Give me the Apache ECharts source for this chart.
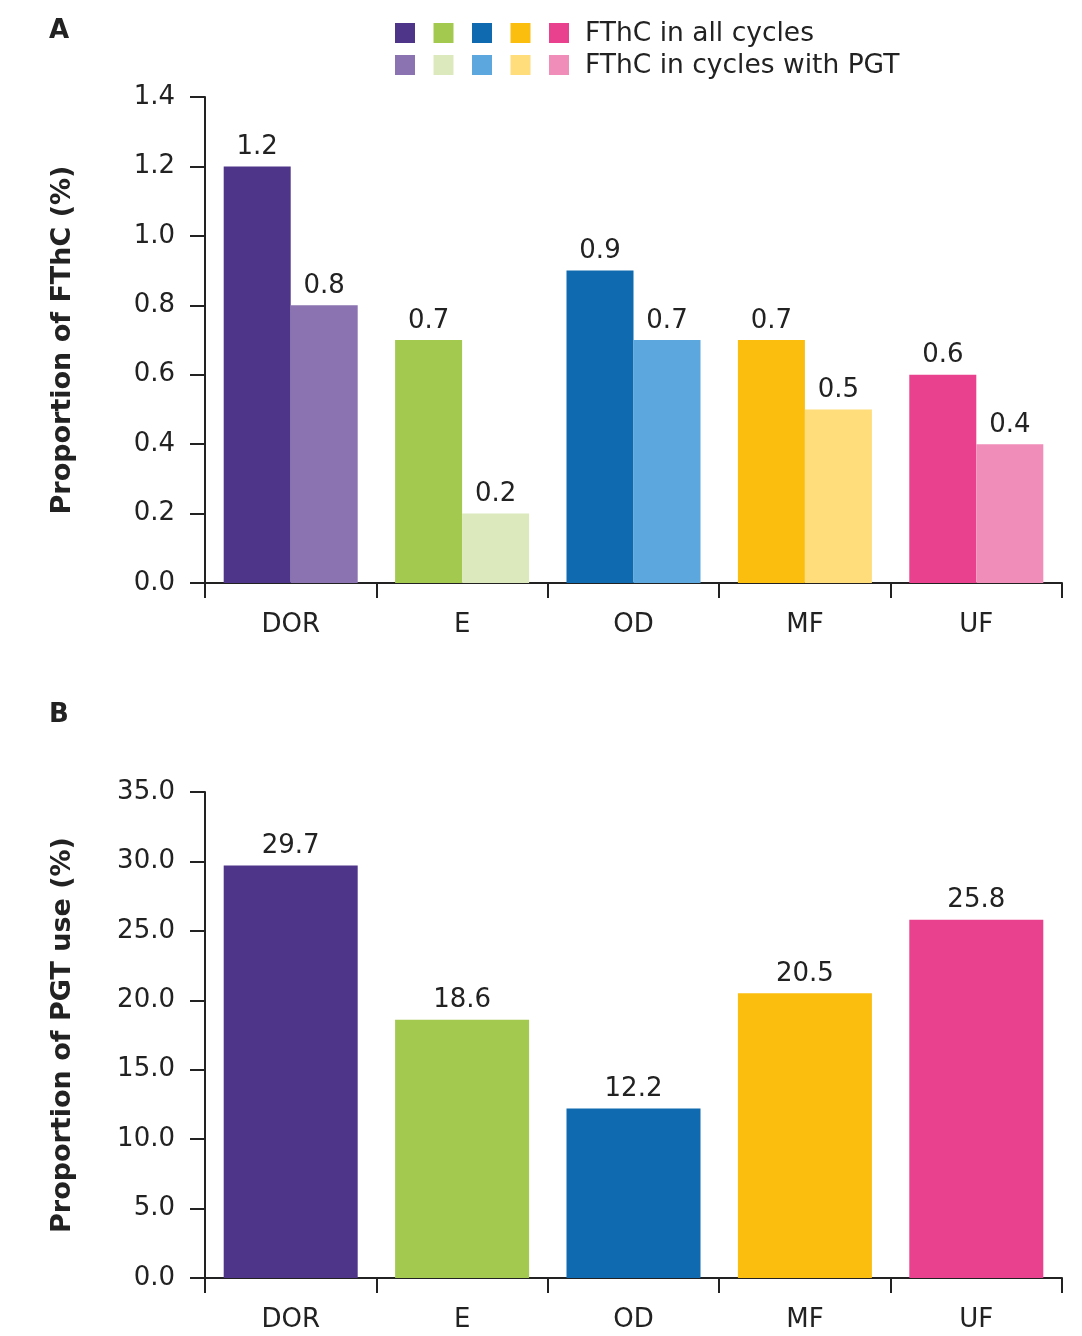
<!DOCTYPE html>
<html>
<head>
<meta charset="utf-8">
<script src="https://cdn.jsdelivr.net/npm/echarts@6/dist/echarts.min.js"></script>
<style>
  html, body { margin: 0; padding: 0; background: #fff; }
  #chart { width: 1082px; height: 1336px; }
</style>
</head>
<body>
<div id="chart"></div>
<script>
// data
const categories = ['DOR', 'E', 'OD', 'MF', 'UF'];
const fthcAll = [1.2, 0.7, 0.9, 0.7, 0.6];
const fthcPgt = [0.8, 0.2, 0.7, 0.5, 0.4];
const pgtUse = [29.7, 18.6, 12.2, 20.5, 25.8];
const darkColors = ['#4f358a', '#a4c94f', '#0f6ab0', '#fbbe0e', '#e9418d'];
const lightColors = ['#8a73b0', '#dce9bc', '#5ca7de', '#fedd7a', '#f08db8'];
const legendNames = ['FThC in all cycles', 'FThC in cycles with PGT'];

const FONT = 'DejaVu Sans';
const INK = '#222';

const chart = echarts.init(document.getElementById('chart'));

function colored(values, colors) {
  return values.map((v, i) => ({ value: v, itemStyle: { color: colors[i] } }));
}

function xAxisFor(gridIndex) {
  return {
    type: 'category',
    gridIndex,
    data: categories,
    axisLine: { lineStyle: { color: INK, width: 2 } },
    axisTick: { show: true, length: 15, lineStyle: { color: INK, width: 2 } },
    axisLabel: { color: INK, fontSize: 26, fontFamily: FONT, margin: 29 },
    splitLine: { show: false }
  };
}

function yAxisFor(gridIndex, max, interval, name) {
  return {
    type: 'value',
    gridIndex,
    min: 0,
    max,
    interval,
    name,
    nameLocation: 'middle',
    nameGap: 129,
    nameRotate: 90,
    nameTextStyle: { color: INK, fontSize: 27, fontWeight: 'bold', fontFamily: FONT },
    axisLine: { show: true, lineStyle: { color: INK, width: 2 } },
    axisTick: { show: true, length: 15, lineStyle: { color: INK, width: 2 } },
    axisLabel: {
      color: INK, fontSize: 26, fontFamily: FONT, margin: 30,
      formatter: v => v.toFixed(1)
    },
    splitLine: { show: false }
  };
}

const barLabel = {
  show: true,
  position: 'top',
  distance: 6,
  color: INK,
  fontSize: 26,
  fontFamily: FONT,
  formatter: p => p.value.toFixed(1)
};

// legend drawn as swatches + text
const legendGraphics = [];
[darkColors, lightColors].forEach((row, r) => {
  row.forEach((c, i) => {
    legendGraphics.push({
      type: 'rect',
      shape: { x: 395 + i * 38.5, y: 23 + r * 32, width: 20, height: 20 },
      style: { fill: c }
    });
  });
  legendGraphics.push({
    type: 'text',
    x: 585,
    y: 34 + r * 32,
    style: {
      text: legendNames[r], fill: INK, font: '26.5px "' + FONT + '"',
      verticalAlign: 'middle'
    }
  });
});

chart.setOption({
  animation: false,
  textStyle: { fontFamily: FONT },
  grid: [
    { left: 205, right: 20, top: 97, bottom: 753 },
    { left: 205, right: 20, top: 792, bottom: 58 }
  ],
  xAxis: [xAxisFor(0), xAxisFor(1)],
  yAxis: [
    yAxisFor(0, 1.4, 0.2, 'Proportion of FThC (%)'),
    yAxisFor(1, 35, 5, 'Proportion of PGT use (%)')
  ],
  graphic: [
    { type: 'text', x: 49, y: 31, style: { text: 'A', fill: INK, font: 'bold 26px "' + FONT + '"', verticalAlign: 'middle' } },
    { type: 'text', x: 49, y: 715, style: { text: 'B', fill: INK, font: 'bold 26px "' + FONT + '"', verticalAlign: 'middle' } },
    ...legendGraphics
  ],
  series: [
    {
      type: 'bar', xAxisIndex: 0, yAxisIndex: 0,
      barWidth: 67, barGap: '0%',
      data: colored(fthcAll, darkColors),
      label: barLabel
    },
    {
      type: 'bar', xAxisIndex: 0, yAxisIndex: 0,
      barWidth: 67, barGap: '0%',
      data: colored(fthcPgt, lightColors),
      label: barLabel
    },
    {
      type: 'bar', xAxisIndex: 1, yAxisIndex: 1,
      barWidth: 134,
      data: colored(pgtUse, darkColors),
      label: barLabel
    }
  ]
});
</script>
</body>
</html>
